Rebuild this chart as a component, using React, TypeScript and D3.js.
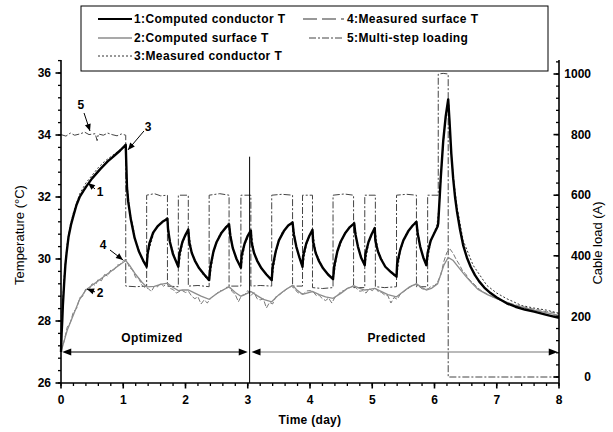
import React from 'react';
import * as d3 from 'd3';

const W = 613;
const H = 432;

// 1: Computed conductor T
const condCompT = [0, 0.01, 0.02, 0.03, 0.05, 0.07, 0.09, 0.12, 0.16, 0.2, 0.25, 0.3, 0.36, 0.41, 0.5, 0.63, 0.75, 0.84, 0.95, 1.04,
  1.05, 1.06, 1.08, 1.12, 1.18, 1.25, 1.32, 1.376,
  1.39, 1.42, 1.48, 1.55, 1.63, 1.71,
  1.72, 1.75, 1.8, 1.885,
  1.9, 1.95, 2.0, 2.045,
  2.06, 2.1, 2.15, 2.22, 2.3, 2.38,
  2.4, 2.45, 2.5, 2.58, 2.65, 2.7,
  2.72, 2.76, 2.82, 2.89,
  2.9, 2.95, 3.0, 3.05,
  3.06, 3.1, 3.15, 3.22, 3.3, 3.385,
  3.4, 3.45, 3.5, 3.58, 3.65, 3.72,
  3.74, 3.78, 3.83, 3.88,
  3.89, 3.94, 3.99, 4.04,
  4.05, 4.09, 4.14, 4.21, 4.29, 4.37,
  4.39, 4.44, 4.49, 4.57, 4.64, 4.71,
  4.73, 4.77, 4.82, 4.88,
  4.89, 4.94, 4.99, 5.04,
  5.05, 5.09, 5.14, 5.21, 5.3, 5.39,
  5.4, 5.45, 5.5, 5.58, 5.65, 5.71,
  5.73, 5.77, 5.82, 5.87,
  5.89, 5.94, 6.0, 6.05,
  6.06, 6.1, 6.14, 6.18, 6.22,
  6.24, 6.27, 6.3, 6.33, 6.36, 6.41, 6.46, 6.52, 6.58, 6.65, 6.72, 6.8, 6.9, 7.0, 7.16, 7.3, 7.45, 7.6, 7.8, 8.0];
const condCompV = [27.0, 27.6, 28.0, 28.5, 29.2, 29.8, 30.2, 30.7, 31.1, 31.4, 31.75, 32.0, 32.2, 32.35, 32.6, 32.9, 33.15, 33.3, 33.5, 33.68,
  33.0, 32.3, 31.85, 31.3, 30.7, 30.25, 29.95, 29.75,
  30.15, 30.5, 30.85, 31.05, 31.2, 31.3,
  30.95, 30.55, 30.15, 29.75,
  30.15, 30.55, 30.78, 30.95,
  30.55, 30.2, 29.95, 29.7, 29.5, 29.32,
  29.75, 30.25, 30.55, 30.85, 31.02, 31.12,
  30.75, 30.35, 30.0, 29.72,
  30.1, 30.5, 30.75, 30.92,
  30.55, 30.2, 29.95, 29.7, 29.5, 29.32,
  29.75, 30.25, 30.6, 30.9, 31.08, 31.18,
  30.8, 30.4, 30.05, 29.75,
  30.1, 30.5, 30.75, 30.94,
  30.55, 30.2, 29.95, 29.7, 29.5, 29.35,
  29.78, 30.25, 30.55, 30.85, 31.03, 31.15,
  30.8, 30.4, 30.05, 29.8,
  30.15, 30.55, 30.8, 31.0,
  30.6, 30.25, 30.0, 29.75, 29.58, 29.43,
  29.85, 30.3, 30.6, 30.9, 31.08, 31.2,
  30.82, 30.4, 30.05, 29.8,
  30.2, 30.6, 30.85, 31.05,
  31.15, 32.6, 33.8, 34.6, 35.15,
  34.5, 33.4, 32.6, 32.0, 31.55, 30.95, 30.45, 30.05, 29.75, 29.48, 29.27, 29.08, 28.9, 28.76, 28.57, 28.46, 28.37, 28.3, 28.2, 28.1];

// 2: Computed surface T
const surfCompT = [0, 0.05, 0.1, 0.2, 0.3, 0.4, 0.5, 0.6, 0.7, 0.8, 0.9, 1.04, 1.1, 1.2, 1.3, 1.376, 1.5, 1.6, 1.71, 1.8,
  1.885, 1.95, 2.045, 2.15, 2.25, 2.38, 2.5, 2.6, 2.7, 2.8, 2.89, 2.95, 3.05, 3.15, 3.25, 3.385, 3.5, 3.6, 3.72, 3.8,
  3.88, 3.95, 4.04, 4.15, 4.25, 4.37, 4.5, 4.6, 4.71, 4.8, 4.88, 4.95, 5.04, 5.15, 5.25, 5.39, 5.5, 5.6, 5.71, 5.8,
  5.87, 5.95, 6.05, 6.1, 6.15, 6.22, 6.3, 6.4, 6.5, 6.6, 6.7, 6.85, 7.0, 7.3, 7.6, 8.0];
const surfCompV = [27.0, 27.35, 27.7, 28.2, 28.7, 29.0, 29.15, 29.3, 29.45, 29.6, 29.75, 29.95, 29.8, 29.5, 29.25, 29.1, 29.12, 29.18, 29.22, 29.08,
  28.98, 29.0, 29.0, 28.9, 28.8, 28.7, 28.88, 29.0, 29.1, 28.92, 28.8, 28.85, 28.95, 28.82, 28.7, 28.62, 28.85, 29.0, 29.15, 28.98,
  28.86, 28.9, 28.95, 28.85, 28.78, 28.73, 28.9, 29.05, 29.13, 29.05, 29.0, 29.02, 29.05, 28.95, 28.85, 28.78, 28.95, 29.1, 29.2, 29.08,
  29.0, 29.05, 29.2, 29.5, 29.8, 30.05, 29.95, 29.7, 29.45, 29.22, 29.02, 28.85, 28.72, 28.5, 28.35, 28.18];

// 3: Measured conductor T
const condMeasT = [0, 0.02, 0.05, 0.1, 0.15, 0.2, 0.3, 0.4, 0.5, 0.6, 0.7, 0.8, 0.9, 1.0, 1.04, 1.06, 1.1, 1.2, 1.3, 1.376,
  1.4, 1.5, 1.6, 1.71, 1.75, 1.885, 1.95, 2.045, 2.1, 2.2, 2.3, 2.38, 2.45, 2.55, 2.7, 2.76, 2.89, 2.95, 3.05, 3.1,
  3.2, 3.3, 3.385, 3.45, 3.55, 3.72, 3.78, 3.88, 3.94, 4.04, 4.09, 4.2, 4.3, 4.37, 4.44, 4.55, 4.71, 4.77, 4.88, 4.94,
  5.04, 5.09, 5.2, 5.3, 5.39, 5.45, 5.55, 5.71, 5.77, 5.87, 5.94, 6.04, 6.08, 6.12, 6.16, 6.2, 6.23, 6.26, 6.3, 6.36,
  6.46, 6.62, 6.84, 7.0, 7.16, 7.4, 7.59, 7.8, 8.0];
const condMeasV = [27.1, 28.3, 29.4, 30.5, 31.1, 31.5, 32.1, 32.45, 32.7, 32.95, 33.15, 33.3, 33.45, 33.6, 33.72, 32.4, 31.6, 30.6, 30.0, 29.7,
  30.2, 30.9, 31.15, 31.35, 30.55, 29.7, 30.5, 30.98, 30.22, 29.75, 29.45, 29.28, 30.2, 30.8, 31.18, 30.3, 29.68, 30.45, 30.95, 30.22,
  29.75, 29.48, 29.3, 30.2, 30.85, 31.22, 30.35, 29.72, 30.45, 30.98, 30.25, 29.72, 29.5, 29.32, 30.2, 30.8, 31.2, 30.38, 29.78, 30.5,
  31.04, 30.28, 29.78, 29.55, 29.4, 30.25, 30.85, 31.25, 30.38, 29.76, 30.55, 31.1, 31.8, 33.2, 34.2, 34.9, 35.0, 33.6, 32.7, 31.7,
  30.6, 29.8, 29.15, 28.9, 28.72, 28.5, 28.42, 28.35, 28.25];

// 4: Measured surface T (sampled every 0.05 day)
const surfMeasStep = 0.05;
const surfMeasV = [
  27.05, 27.35, 27.8, 27.95, 28.3, 28.4, 28.75, 28.8, 29.05, 29.0, 29.2, 29.15, 29.35, 29.3, 29.5, 29.45, 29.65, 29.65, 29.8, 29.82,
  29.95, 29.98, 29.72, 29.65, 29.4, 29.38, 29.15, 29.08, 29.05, 28.95, 29.12, 29.1, 29.22, 29.12, 29.22, 29.05, 29.02, 28.9, 28.95, 28.98,
  28.92, 28.95, 28.8, 28.72, 28.78, 28.55, 28.68, 28.58, 28.72, 28.82, 28.88, 28.98, 28.98, 29.08, 29.1, 28.95, 28.85, 28.62, 28.82, 28.85,
  28.98, 28.82, 28.92, 28.72, 28.68, 28.72, 28.42, 28.6, 28.55, 28.78, 28.82, 28.92, 28.98, 29.08, 29.12, 29.05, 28.92, 28.88, 28.88, 28.97,
  28.98, 28.95, 28.82, 28.82, 28.72, 28.66, 28.74, 28.58, 28.76, 28.84, 28.96, 28.98, 29.06, 29.08, 29.16, 29.04, 28.96, 28.98, 28.9, 29.04,
  28.98, 29.06, 28.94, 28.92, 28.84, 28.82, 28.58, 28.76, 28.7, 28.86, 28.94, 29.02, 29.08, 29.16, 29.18, 29.12, 29.04, 29.02, 29.04, 29.12,
  29.14, 29.26, 29.48, 29.92, 30.22, 30.32, 30.18, 29.98, 29.82, 29.62, 29.52, 29.36, 29.26, 29.16, 29.06, 28.98, 28.92, 28.86, 28.82, 28.76,
  28.72, 28.68, 28.66, 28.6, 28.58, 28.55, 28.52, 28.5, 28.46, 28.45, 28.42, 28.4, 28.38, 28.36, 28.35, 28.32, 28.3, 28.3, 28.27, 28.26,
  28.24];

// 5: Multi-step loading (A)
const loadT = [0, 0.08, 0.15, 0.22, 0.3, 0.38, 0.45, 0.55, 0.58, 0.6, 0.68, 0.75, 0.82, 0.9, 0.97, 1.04, 1.04, 1.2, 1.376, 1.376,
  1.5, 1.6, 1.71, 1.71, 1.885, 1.885, 2.045, 2.045, 2.2, 2.38, 2.38, 2.55, 2.7, 2.7, 2.89, 2.89, 3.05, 3.05, 3.2, 3.385,
  3.385, 3.55, 3.72, 3.72, 3.88, 3.88, 4.04, 4.04, 4.2, 4.37, 4.37, 4.55, 4.7, 4.7, 4.88, 4.88, 5.05, 5.05, 5.2, 5.39,
  5.39, 5.55, 5.71, 5.71, 5.89, 5.89, 6.06, 6.06, 6.14, 6.22, 6.22, 8.0];
const loadV = [800, 795, 805, 798, 802, 808, 800, 803, 780, 802, 798, 805, 800, 796, 802, 798, 300, 298, 300, 600,
  605, 598, 600, 300, 298, 600, 600, 300, 302, 298, 600, 605, 600, 300, 300, 600, 600, 300, 302, 300,
  600, 603, 600, 300, 300, 600, 600, 295, 292, 295, 600, 604, 600, 295, 295, 600, 600, 298, 295, 298,
  600, 603, 600, 298, 298, 600, 600, 1000, 1002, 1000, 0, 0];

// Axis ticks
const xTicks = [0, 1, 2, 3, 4, 5, 6, 7, 8];
const tTicks = [26, 28, 30, 32, 34, 36];
const aTicks = [0, 200, 400, 600, 800, 1000];

// Legend
const legendCol1 = ['1:Computed conductor T', '2:Computed surface T', '3:Measured conductor T'];
const legendCol2 = ['4:Measured surface T', '5:Multi-step loading'];

// Annotations: label, label pos (day, T), arrow from (day, T) to (day, T)
const annLabels = ['5', '3', '1', '4', '2'];
const annLabelPos = [[0.32, 34.97], [1.40, 34.26], [0.63, 32.16], [0.675, 30.45], [0.627, 28.9]];
const annFrom = [[0.37, 34.71], [1.333, 34.13], [0.546, 32.26], [0.787, 30.29], [0.546, 28.94]];
const annTo = [[0.466, 34.13], [1.076, 33.52], [0.434, 32.45], [0.996, 29.97], [0.418, 29.03]];

// Period markers
const splitDay = 3.03;
const splitTopT = 33.3;
const periodLabels = ['Optimized', 'Predicted'];
const periodStart = [0.02, 3.06];
const periodEnd = [3.0, 7.98];
const periodArrowT = 27.0;
const periodLabelT = 27.45;

const FONT = '"Liberation Sans", Arial, sans-serif';

function arrowHead(x1: number, y1: number, x2: number, y2: number, len: number, half: number) {
  const dx = x2 - x1, dy = y2 - y1;
  const d = Math.sqrt(dx * dx + dy * dy) || 1;
  const ux = dx / d, uy = dy / d;
  const bx = x2 - ux * len, by = y2 - uy * len;
  return `M${x2},${y2}L${bx - uy * half},${by + ux * half}L${bx + uy * half},${by - ux * half}Z`;
}

export default function App() {
  const x = d3.scaleLinear().domain([0, 8]).range([61, 559]);
  const yT = d3.scaleLinear().domain([26, 36]).range([383, 73]);
  const yA = d3.scaleLinear().domain([0, 1000]).range([377, 74]);
  const axTop = 60;
  const axBottom = yT(26);
  const xL = x(0), xR = x(8);

  const mk = (ts: number[], vs: number[], ys: (v: number) => number) =>
    d3.line<number>().x((_, i) => x(ts[i])).y((v) => ys(v))(vs) || '';

  const surfMeasT = surfMeasV.map((_, i) => i * surfMeasStep);

  const xMinor = d3.range(0, 8.0001, 0.2);
  const tMinor = d3.range(26, 36.41, 0.4);
  const aMinor = d3.range(0, 1040.1, 40);

  const lx1 = 98, lx2 = 132, ltx = 134;
  const l2x1 = 303, l2x2 = 344, l2tx = 347;
  const rows = [19, 38, 56];

  return (
    <svg width={W} height={H} style={{ position: 'absolute', left: 0, top: 0, background: '#fff' }}
      fontFamily={FONT}>
      <rect x={0} y={0} width={W} height={H} fill="#fff" />

      {/* data lines */}
      <path d={mk(loadT, loadV, yA)} fill="none" stroke="#444" strokeWidth={1} strokeDasharray="7,2,2,2" />
      <path d={mk(surfMeasT, surfMeasV, yT)} fill="none" stroke="#777" strokeWidth={1} strokeDasharray="5,2" />
      <path d={mk(surfCompT, surfCompV, yT)} fill="none" stroke="#8c8c8c" strokeWidth={1.3} />
      <path d={mk(condMeasT, condMeasV, yT)} fill="none" stroke="#333" strokeWidth={1} strokeDasharray="2,2" />
      <path d={mk(condCompT, condCompV, yT)} fill="none" stroke="#000" strokeWidth={2.4} strokeLinejoin="round" />

      {/* split line */}
      <line x1={x(splitDay)} x2={x(splitDay)} y1={yT(splitTopT)} y2={axBottom} stroke="#000" strokeWidth={1} />

      {/* period arrows */}
      {periodLabels.map((lab, i) => {
        const a = x(periodStart[i]), b = x(periodEnd[i]), yy = yT(periodArrowT);
        const col = i === 0 ? '#000' : '#777';
        return (
          <g key={lab}>
            <line x1={a + 4} x2={b - 4} y1={yy} y2={yy} stroke={col} strokeWidth={1.2} />
            <path d={arrowHead(b, yy, a, yy, 9, 3.5)} fill="#000" />
            <path d={arrowHead(a, yy, b, yy, 9, 3.5)} fill="#000" />
            <text x={(a + b) / 2 - (i === 0 ? 3 : 8)} y={yT(periodLabelT)} dy="0.35em" textAnchor="middle"
              fontSize={12} fontWeight="bold" letterSpacing={0.4}>{lab}</text>
          </g>
        );
      })}

      {/* annotations */}
      {annLabels.map((lab, i) => {
        const fx = x(annFrom[i][0]), fy = yT(annFrom[i][1]);
        const tx = x(annTo[i][0]), ty = yT(annTo[i][1]);
        return (
          <g key={'ann' + i}>
            <text x={x(annLabelPos[i][0])} y={yT(annLabelPos[i][1])} dy="0.35em" textAnchor="middle"
              fontSize={12} fontWeight="bold">{lab}</text>
            <line x1={fx} y1={fy} x2={tx} y2={ty} stroke="#000" strokeWidth={1} />
            <path d={arrowHead(fx, fy, tx, ty, 7, 3)} fill="#000" />
          </g>
        );
      })}

      {/* axes */}
      <line x1={xL} x2={xR} y1={axBottom} y2={axBottom} stroke="#000" strokeWidth={1.6} />
      <line x1={xL} x2={xL} y1={axTop} y2={axBottom} stroke="#000" strokeWidth={1.6} />
      <line x1={xR} x2={xR} y1={axTop} y2={axBottom} stroke="#000" strokeWidth={1.6} />

      {xMinor.map((d) => (
        <line key={'xm' + d} x1={x(d)} x2={x(d)} y1={axBottom} y2={axBottom + 3} stroke="#000" strokeWidth={1.3} />
      ))}
      {xTicks.map((d) => (
        <g key={'xt' + d}>
          <line x1={x(d)} x2={x(d)} y1={axBottom} y2={axBottom + 5.5} stroke="#000" strokeWidth={1.6} />
          <text x={x(d)} y={axBottom + 17} dy="0.35em" textAnchor="middle" fontSize={12} fontWeight="bold">{d}</text>
        </g>
      ))}
      {tMinor.map((d) => (
        <line key={'tm' + d} x1={xL - 3} x2={xL} y1={yT(d)} y2={yT(d)} stroke="#000" strokeWidth={1.3} />
      ))}
      {tTicks.map((d) => (
        <g key={'tt' + d}>
          <line x1={xL - 5.5} x2={xL} y1={yT(d)} y2={yT(d)} stroke="#000" strokeWidth={1.6} />
          <text x={xL - 10} y={yT(d)} dy="0.35em" textAnchor="end" fontSize={12} fontWeight="bold">{d}</text>
        </g>
      ))}
      {aMinor.map((d) => (
        <line key={'am' + d} x1={xR - 3} x2={xR} y1={yA(d)} y2={yA(d)} stroke="#000" strokeWidth={1.3} />
      ))}
      {aTicks.map((d) => (
        <g key={'at' + d}>
          <line x1={xR - 5.5} x2={xR} y1={yA(d)} y2={yA(d)} stroke="#000" strokeWidth={1.6} />
          <text x={xR + 32} y={yA(d)} dy="0.35em" textAnchor="end" fontSize={12} fontWeight="bold">{d}</text>
        </g>
      ))}

      {/* axis titles */}
      <text x={(xL + xR) / 2} y={420} dy="0.35em" textAnchor="middle" fontSize={12} fontWeight="bold" letterSpacing={0.3}>Time (day)</text>
      <text transform="translate(19,235) rotate(-90)" textAnchor="middle" dy="0.35em" fontSize={13}>Temperature (°C)</text>
      <text transform="translate(597,243) rotate(-90)" textAnchor="middle" dy="0.35em" fontSize={13}>Cable load (A)</text>

      {/* legend */}
      <rect x={81} y={6} width={467} height={65} fill="#fff" stroke="#000" strokeWidth={1} />
      <line x1={lx1} x2={lx2} y1={rows[0]} y2={rows[0]} stroke="#000" strokeWidth={2.2} />
      <line x1={lx1} x2={lx2} y1={rows[1]} y2={rows[1]} stroke="#8c8c8c" strokeWidth={1.5} />
      <line x1={lx1} x2={lx2} y1={rows[2]} y2={rows[2]} stroke="#333" strokeWidth={1} strokeDasharray="2,2" />
      {legendCol1.map((t, i) => (
        <text key={t} x={ltx} y={rows[i]} dy="0.35em" fontSize={12} fontWeight="bold" letterSpacing={0.4}>{t}</text>
      ))}
      <line x1={l2x1} x2={l2x2} y1={rows[0]} y2={rows[0]} stroke="#777" strokeWidth={1.3} strokeDasharray="14,5" />
      <line x1={l2x1 + 6} x2={l2x2} y1={rows[1]} y2={rows[1]} stroke="#444" strokeWidth={1} strokeDasharray="7,2,2,2" />
      {legendCol2.map((t, i) => (
        <text key={t} x={l2tx} y={rows[i]} dy="0.35em" fontSize={12} fontWeight="bold" letterSpacing={0.4}>{t}</text>
      ))}
    </svg>
  );
}
